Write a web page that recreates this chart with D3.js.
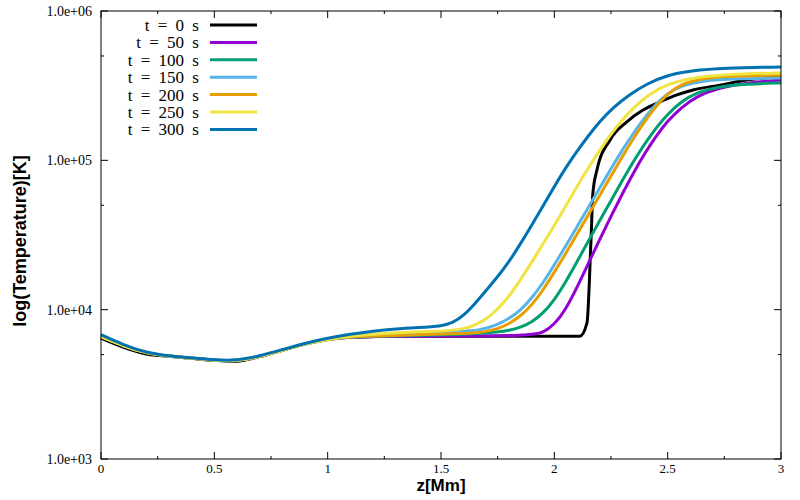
<!DOCTYPE html>
<html>
<head>
<meta charset="utf-8">
<script src="https://d3js.org/d3.v7.min.js"></script>
<style>
  body { margin: 0; background: #fff; }
</style>
</head>
<body>
<script>
// data (z in Mm, T in K)
var labels = ["t = 0 s", "t = 50 s", "t = 100 s", "t = 150 s", "t = 200 s", "t = 250 s", "t = 300 s"];
var colors = ["#000000", "#9400d3", "#009e73", "#56b4e9", "#e69f00", "#f0e442", "#0072b2"];

var zLow = [0, 0.1, 0.2, 0.3, 0.4, 0.5, 0.6, 0.7, 0.8, 0.9, 1.0, 1.1, 1.2];

var z0 = zLow.concat([1.5, 1.8, 2.113, 2.144, 2.162, 2.17, 2.188, 2.246, 2.32, 2.391, 2.466, 2.541, 2.612, 2.731, 2.85, 3.0]);
var t0 = [6450, 5600, 5050, 4880, 4720, 4580, 4520, 4850, 5350, 5900, 6350, 6550, 6600,
          6650, 6650, 6650, 8150, 30000, 60000, 86100, 137000, 181000, 217000, 246000, 274000, 296000, 319000, 345000, 365000];

var z50 = zLow.concat([1.5, 1.9, 1.95, 2.0, 2.05, 2.1, 2.15, 2.2, 2.25, 2.3, 2.35, 2.4, 2.45, 2.5, 2.56, 2.63, 2.72, 2.85, 3.0]);
var t50 = [6600, 5700, 5100, 4880, 4720, 4580, 4520, 4850, 5350, 5900, 6350, 6550, 6600,
           6650, 6700, 7000, 7940, 10000, 14100, 20400, 29500, 42200, 59600, 83200, 112000, 146000, 184000, 226000, 269000, 305000, 331000, 345000];

var z100 = zLow.concat([1.5, 1.672, 1.75, 1.8, 1.85, 1.9, 1.95, 2.0, 2.05, 2.1, 2.15, 2.2, 2.25, 2.3, 2.35, 2.4, 2.45, 2.5, 2.56, 2.63, 2.72, 2.85, 3.0]);
var t100 = [6600, 5700, 5100, 4880, 4720, 4580, 4520, 4850, 5350, 5900, 6350, 6550, 6650,
            6750, 6950, 7080, 7240, 7590, 8220, 9440, 11600, 15300, 20900, 28800, 39400, 53700, 73300, 98900, 130000, 166000, 204000, 248000, 285000, 311000, 324000, 330000];

var z150 = zLow.concat([1.4, 1.55, 1.672, 1.75, 1.8, 1.85, 1.9, 1.95, 2.0, 2.05, 2.1, 2.15, 2.2, 2.25, 2.3, 2.35, 2.4, 2.45, 2.5, 2.56, 2.65, 2.8, 3.0]);
var t150 = [6600, 5700, 5100, 4880, 4720, 4580, 4520, 4850, 5350, 5900, 6350, 6600, 6700,
            6950, 7150, 7200, 7940, 8710, 9890, 11900, 15100, 19950, 26600, 35900, 48400, 65300, 88100, 117500, 153000, 195000, 240000, 282000, 316000, 341000, 353000, 356000];

var z200 = zLow.concat([1.4, 1.55, 1.672, 1.75, 1.8, 1.85, 1.9, 1.95, 2.0, 2.05, 2.1, 2.15, 2.2, 2.25, 2.3, 2.35, 2.4, 2.45, 2.5, 2.56, 2.65, 2.8, 3.0]);
var t200 = [6600, 5700, 5100, 4880, 4720, 4580, 4520, 4850, 5350, 5900, 6350, 6580, 6650,
            6800, 6900, 6980, 7410, 8040, 9020, 10700, 13500, 17800, 23700, 32000, 43200, 58200, 78500, 106000, 141000, 184000, 232000, 279000, 324000, 355000, 368000, 372000];

var z250 = zLow.concat([1.3, 1.4, 1.5, 1.6, 1.65, 1.716, 1.79, 1.85, 1.91, 1.97, 2.03, 2.09, 2.15, 2.21, 2.27, 2.34, 2.42, 2.5, 2.6, 2.75, 3.0]);
var t250 = [6600, 5700, 5100, 4880, 4720, 4580, 4520, 4850, 5350, 5900, 6350, 6650, 6850,
            7000, 7150, 7160, 7410, 7850, 8930, 11600, 15800, 21900, 30900, 43600, 63100, 89100, 123000, 166000, 219000, 279000, 324000, 355000, 376000, 385000];

var z300 = zLow.concat([1.3, 1.4, 1.5, 1.55, 1.6, 1.65, 1.7, 1.75, 1.8, 1.85, 1.9, 1.95, 2.0, 2.05, 2.1, 2.15, 2.2, 2.26, 2.33, 2.41, 2.5, 2.6, 2.75, 3.0]);
var t300 = [6800, 5800, 5150, 4900, 4750, 4600, 4550, 4900, 5400, 5950, 6450, 6850, 7200,
            7450, 7600, 7750, 8130, 9120, 10960, 13490, 16600, 20900, 27500, 36700, 49500, 66800, 89100, 115000, 146000, 182000, 226000, 275000, 327000, 372000, 398000, 415000, 422000];

var seriesZ = [z0, z50, z100, z150, z200, z250, z300];
var seriesT = [t0, t50, t100, t150, t200, t250, t300];

var xTicks = [0, 0.5, 1, 1.5, 2, 2.5, 3];
var xTickLabels = ["0", "0.5", "1", "1.5", "2", "2.5", "3"];
var xMinor = [0.25, 0.75, 1.25, 1.75, 2.25, 2.75];
var yTicks = [1e3, 1e4, 1e5, 1e6];
var yTickLabels = ["1.0e+03", "1.0e+04", "1.0e+05", "1.0e+06"];
var yMinor = [5e3, 5e4, 5e5];

var serif = "'Liberation Serif', 'Times New Roman', serif";
var sans = "'Liberation Sans', Arial, Helvetica, sans-serif";

// set the dimensions and margins of the graph
var margin = {top: 11, right: 19, bottom: 41, left: 101},
    width = 800 - margin.left - margin.right,
    height = 500 - margin.top - margin.bottom;

var x = d3.scaleLinear().domain([0, 3]).range([0, width]);
var y = d3.scaleLog().domain([1e3, 1e6]).range([height, 0]);

var svg = d3.select("body").append("svg")
    .attr("width", 800)
    .attr("height", 500)
  .append("g")
    .attr("transform", "translate(" + margin.left + "," + margin.top + ")");

// curves: smooth spline, monotone for the steep t = 0 front
var smooth = d3.line()
    .x(function(d) { return x(d[0]); })
    .y(function(d) { return y(d[1]); })
    .curve(d3.curveBasis);
var steep = d3.line()
    .x(function(d) { return x(d[0]); })
    .y(function(d) { return y(d[1]); })
    .curve(d3.curveMonotoneX);

var curves = svg.append("g");
seriesZ.forEach(function(zs, i) {
  var pts = zs.map(function(z, j) { return [z, seriesT[i][j]]; });
  curves.append("path")
      .datum(pts)
      .attr("fill", "none")
      .attr("stroke", colors[i])
      .attr("stroke-width", 3)
      .attr("stroke-linejoin", "round")
      .attr("d", i === 0 ? steep : smooth);
});

// ticks, mirrored on all four sides, pointing inward
var tk = svg.append("g").attr("stroke", "#000").attr("stroke-width", 1);
function xTick(v, len) {
  tk.append("line").attr("x1", x(v)).attr("x2", x(v)).attr("y1", height).attr("y2", height - len);
  tk.append("line").attr("x1", x(v)).attr("x2", x(v)).attr("y1", 0).attr("y2", len);
}
function yTick(v, len) {
  tk.append("line").attr("y1", y(v)).attr("y2", y(v)).attr("x1", 0).attr("x2", len);
  tk.append("line").attr("y1", y(v)).attr("y2", y(v)).attr("x1", width).attr("x2", width - len);
}
xTicks.forEach(function(v) { xTick(v, 7); });
xMinor.forEach(function(v) { xTick(v, 3); });
yTicks.forEach(function(v) { yTick(v, 7); });
yMinor.forEach(function(v) { yTick(v, 3); });

// frame
svg.append("rect")
    .attr("width", width)
    .attr("height", height)
    .attr("fill", "none")
    .attr("stroke", "#000")
    .attr("stroke-width", 1);

// tick labels
svg.selectAll(".xl").data(xTicks).enter().append("text")
    .style("font-family", serif)
    .attr("font-size", 13)
    .attr("x", function(d) { return x(d); })
    .attr("y", height + 14)
    .attr("text-anchor", "middle")
    .text(function(d, i) { return xTickLabels[i]; });

svg.selectAll(".yl").data(yTicks).enter().append("text")
    .style("font-family", serif)
    .attr("font-size", 14)
    .attr("x", -9)
    .attr("y", function(d) { return y(d) + 5; })
    .attr("text-anchor", "end")
    .text(function(d, i) { return yTickLabels[i]; });

// axis titles
svg.append("text")
    .style("font-family", sans)
    .attr("font-weight", "bold")
    .attr("font-size", 17)
    .attr("x", width / 2)
    .attr("y", height + 32)
    .attr("text-anchor", "middle")
    .text("z[Mm]");

svg.append("text")
    .style("font-family", sans)
    .attr("font-weight", "bold")
    .attr("font-size", 18)
    .attr("transform", "translate(" + (-75) + "," + 230 + ") rotate(-90)")
    .attr("text-anchor", "middle")
    .text("log(Temperature)[K]");

// legend
var legend = svg.append("g");
labels.forEach(function(lab, i) {
  var ly = 14 + i * 17.4;
  legend.append("text")
      .style("font-family", serif)
      .attr("font-size", 17)
      .style("word-spacing", "4px")
      .attr("x", 98)
      .attr("y", ly + 6)
      .attr("text-anchor", "end")
      .text(lab);
  legend.append("line")
      .attr("x1", 109).attr("x2", 156)
      .attr("y1", ly).attr("y2", ly)
      .attr("stroke", colors[i])
      .attr("stroke-width", 3);
});
</script>
</body>
</html>
